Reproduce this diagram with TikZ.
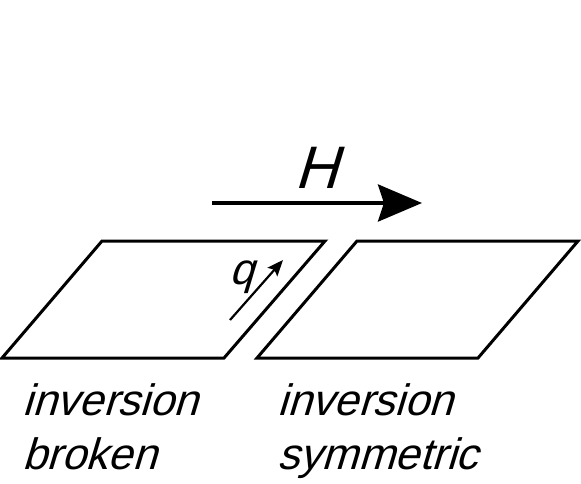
\documentclass[tikz,border=0pt]{standalone}
\usepackage{fontspec}
\setmainfont{Liberation Sans}
\newfontfamily\obliquefont[FakeSlant=0.3]{Liberation Sans}
\usetikzlibrary{arrows.meta,positioning,calc}
\tikzset{
  plate/.style={draw=black, line width=1.5pt, line join=miter},
  field/.style={-{Stealth[length=22pt, width=18.5pt, inset=3pt]}, line width=2pt},
  wavevec/.style={-{Stealth[length=8pt, width=6.5pt, inset=1.5pt]}, line width=1.1pt},
  caption/.style={font=\fontsize{22}{25}\obliquefont, inner sep=0pt, anchor=base west},
  letter/.style={font=\fontsize{22}{25}\obliquefont, inner sep=0pt, anchor=base},
}

\begin{document}
\begin{tikzpicture}[x=0.5pt, y=-0.5pt]
  \useasboundingbox (0,0) rectangle (581,483);

  % field arrow
  \coordinate (Hstart) at (212,203);
  \coordinate (Hend)   at (422,203);
  \draw[field] (Hstart) -- (Hend);
  \node[font=\fontsize{30}{34}\obliquefont, inner sep=0pt, anchor=base] (Hlabel) at (316,188) {H};

  % the two layers
  \draw[plate] (102,241) -- (325,241) -- (224,358) -- (2,358) -- cycle;
  \draw[plate] (357,241) -- (578,241) -- (478,358) -- (257,358) -- cycle;

  % wave vector
  \coordinate (qstart) at (230,320);
  \coordinate (qend)   at (283,260);
  \draw[wavevec] (qstart) -- (qend);
  \node[letter] (qlabel) at (242,284) {q};

  % captions
  \node[caption] (invL) at (22,415) {inversion};
  \node[caption] (brkL) at (22,469) {broken};
  \node[caption] (invR) at (277,415) {inversion};
  \node[caption] (symR) at (277,469) {symmetric};
\end{tikzpicture}
\end{document}
